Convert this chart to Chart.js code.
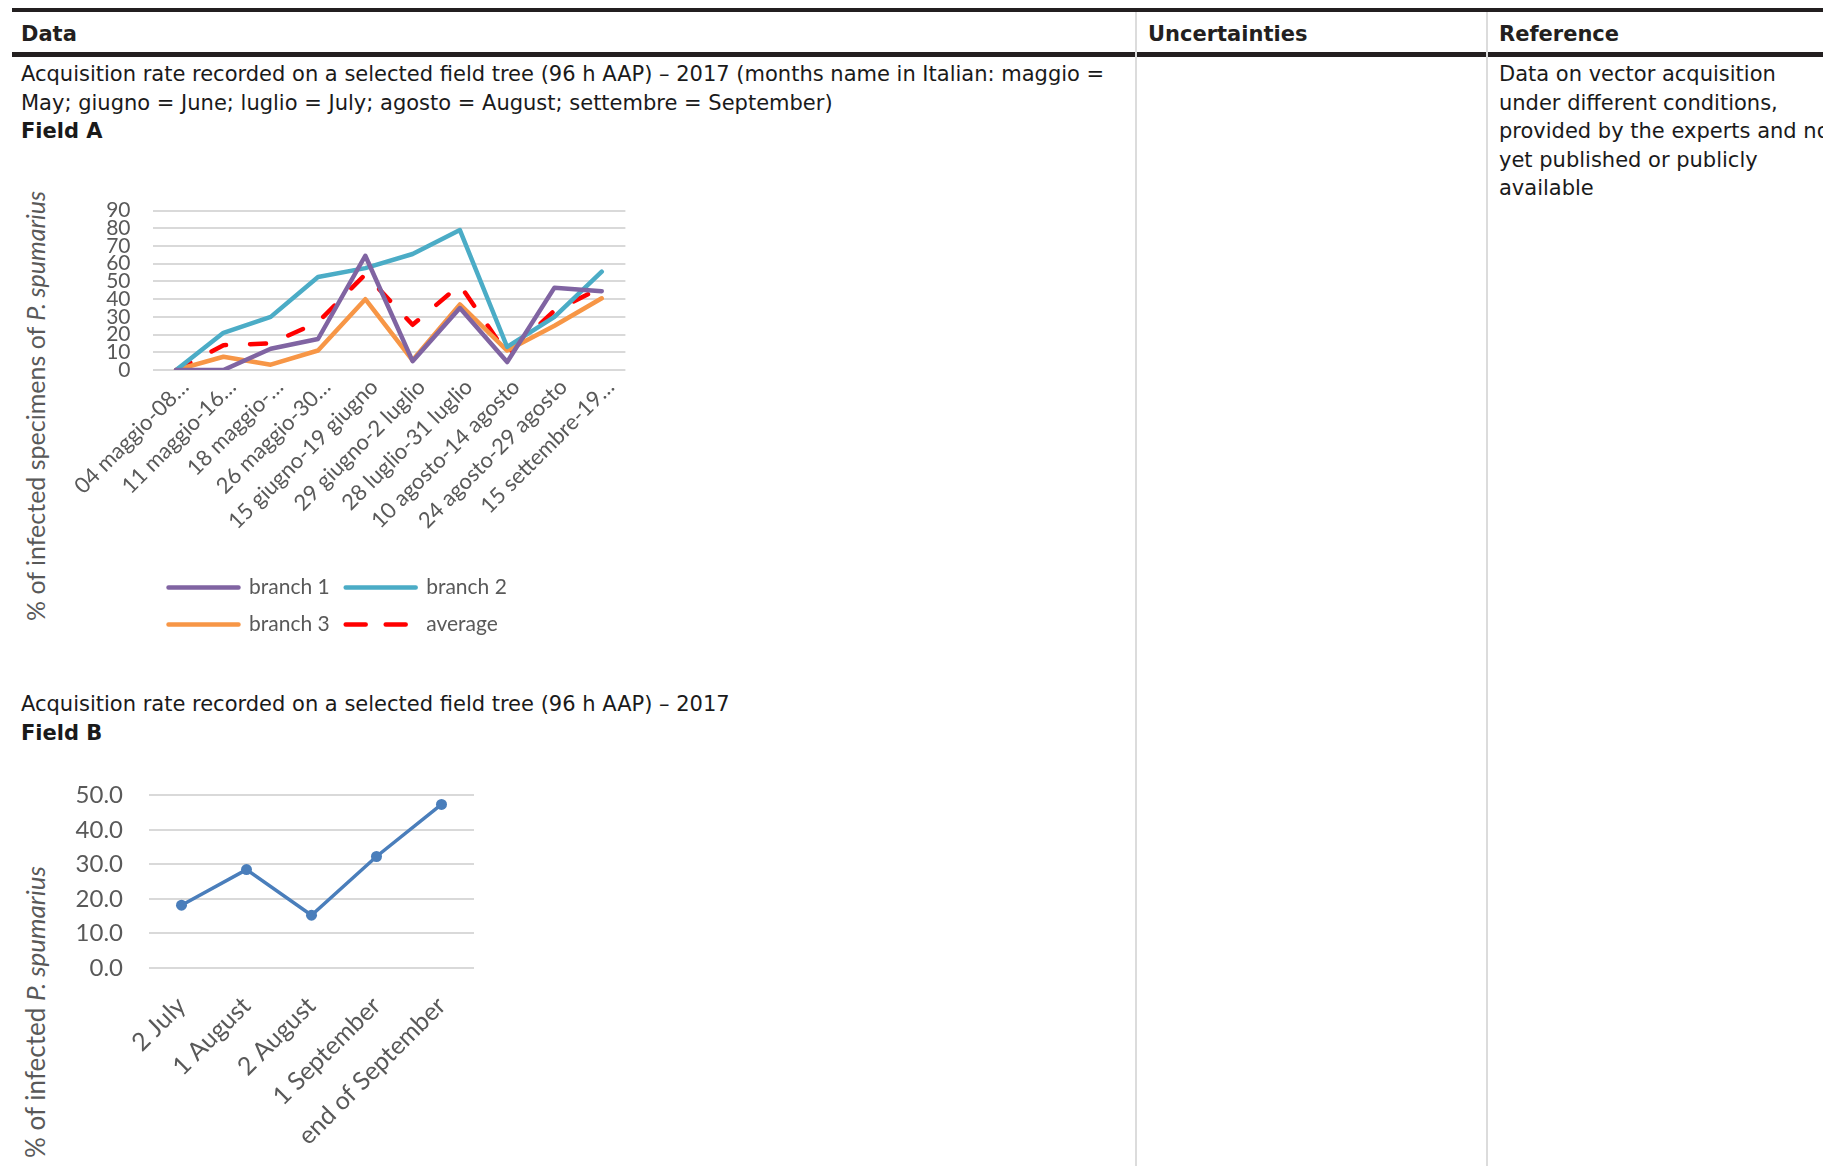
<!DOCTYPE html>
<html>
<head>
<meta charset="utf-8">
<script src="https://cdn.jsdelivr.net/npm/chart.js@4.4.1/dist/chart.umd.min.js"></script>
<style>
  html, body { margin: 0; padding: 0; background: #fff; }
  body { width: 1823px; height: 1166px; position: relative; overflow: hidden;
         font-family: "DejaVu Sans", Verdana, sans-serif; color: #1a1a1a; }
  .rule { position: absolute; left: 12px; right: 0; background: #231f20; }
  .vline { position: absolute; width: 2px; top: 12px; bottom: 0; background: #dcdcdc; }
  .txt { position: absolute; font-size: 21px; line-height: 28.5px; white-space: nowrap; }
  .hdr { font-weight: bold; color: #231f20; }
  .ytitle { position: absolute; font-family: Lato, sans-serif; color: #595959;
            white-space: nowrap; transform: translate(-50%, -50%) rotate(-90deg); }
  canvas { position: absolute; }
</style>
</head>
<body>
  <div class="rule" style="top:8px;height:4px"></div>
  <div class="rule" style="top:52px;height:5px"></div>
  <div class="vline" style="left:1135px"></div>
  <div class="vline" style="left:1486px"></div>

  <div class="txt hdr" style="left:21px;top:20px">Data</div>
  <div class="txt hdr" style="left:1148px;top:20px">Uncertainties</div>
  <div class="txt hdr" style="left:1499px;top:20px">Reference</div>

  <div class="txt" style="left:21px;top:60px">Acquisition rate recorded on a selected field tree (96 h AAP) – 2017 (months name in Italian: maggio =<br>May; giugno = June; luglio = July; agosto = August; settembre = September)<br><b>Field A</b></div>
  <div class="txt" style="left:1499px;top:60px">Data on vector acquisition<br>under different conditions,<br>provided by the experts and not<br>yet published or publicly<br>available</div>
  <div class="txt" style="left:21px;top:690px">Acquisition rate recorded on a selected field tree (96 h AAP) – 2017<br><b>Field B</b></div>

  <div class="ytitle" style="left:35px;top:406px;font-size:25px">% of infected specimens of <i>P. spumarius</i></div>
  <div class="ytitle" style="left:35px;top:1012px;font-size:26px">% of infected <i>P. spumarius</i></div>

  <canvas id="chartA" width="600" height="469" style="left:50px;top:176px"></canvas>
  <canvas id="chartB" width="450" height="388" style="left:50px;top:755px"></canvas>

<script>
// Field A: sampling periods (labels as they appear, truncated by Excel)
const periodsA = ['04 maggio-08…', '11 maggio-16…', '18 maggio-…', '26 maggio-30…',
  '15 giugno-19 giugno', '29 giugno-2 luglio', '28 luglio-31 luglio',
  '10 agosto-14 agosto', '24 agosto-29 agosto', '15 settembre-19…'];
const branch1 = [0, 0, 12, 17.5, 64.5, 5, 35, 4.5, 46.5, 44.5];
const branch2 = [0, 21, 30, 52.5, 57.5, 65.5, 79, 13, 30, 55.5];
const branch3 = [0, 7.5, 3, 11, 40, 5.5, 37, 11, 25, 40.5];
const average = [0, 14, 15, 27, 54, 25.5, 48, 9, 33.5, 46.5];

// Field B
const datesB = ['2 July', '1 August', '2 August', '1 September', 'end of September'];
const infectedB = [18.2, 28.5, 15.3, 32.3, 47.4];

const gray = '#595959';
const gridColor = '#d9d9d9';

const lineSet = (label, data, color, dash) => ({
    label: label,
    data: data,
    borderColor: color,
    backgroundColor: 'rgba(0,0,0,0)',
    borderWidth: 4.5,
    borderDash: dash || [],
    borderCapStyle: 'round',
    borderJoinStyle: 'round',
    pointRadius: 0,
    tension: 0
});

// Chart A
new Chart(document.getElementById('chartA'), {
    type: 'line',
    data: {
        labels: periodsA,
        datasets: [
            lineSet('branch 1', branch1, '#8064A2'),
            lineSet('branch 2', branch2, '#4BACC6'),
            lineSet('branch 3', branch3, '#F79646'),
            lineSet('average', average, '#FF0000', [16, 24])
        ]
    },
    options: {
        responsive: false,
        animation: false,
        layout: { padding: { top: 5.5, right: 24.6, left: 0, bottom: 0 } },
        plugins: {
            tooltip: { enabled: false },
            legend: {
                position: 'bottom',
                align: 'start',
                fullSize: false,
                labels: {
                    // flat box = line sample, keeps the dash pattern
                    boxWidth: 70,
                    boxHeight: 0,
                    padding: 16,
                    color: gray,
                    font: { family: 'Lato', size: 21 }
                }
            }
        },
        scales: {
            x: {
                offset: true,
                grid: { display: false },
                border: { display: false },
                ticks: {
                    autoSkip: false, minRotation: 45, maxRotation: 45, padding: -4, labelOffset: 9,
                    color: gray, font: { family: 'Lato', size: 22 }
                },
                afterFit: (s) => { s.height = 191; }
            },
            y: {
                min: 0, max: 90,
                grid: { color: gridColor, lineWidth: 2, drawTicks: false },
                border: { display: false },
                ticks: { autoSkip: false, stepSize: 10, padding: 22, color: gray, font: { family: 'Lato', size: 21 } },
                afterFit: (s) => { s.width = 102.5; }
            }
        }
    }
});

// Chart B
new Chart(document.getElementById('chartB'), {
    type: 'line',
    data: {
        labels: datesB,
        datasets: [{
            label: '% infected',
            data: infectedB,
            borderColor: '#4A7EBB',
            backgroundColor: '#4A7EBB',
            borderWidth: 3.5,
            pointRadius: 5.5,
            pointBorderWidth: 0,
            tension: 0
        }]
    },
    options: {
        responsive: false,
        animation: false,
        layout: { padding: { top: 8.7, right: 26, left: 0, bottom: 0 } },
        plugins: { legend: { display: false }, tooltip: { enabled: false } },
        scales: {
            x: {
                offset: true,
                grid: { display: false },
                border: { display: false },
                ticks: {
                    autoSkip: false, minRotation: 45, maxRotation: 45, padding: 15,
                    color: gray, font: { family: 'Lato', size: 25 }
                },
                afterFit: (s) => { s.height = 175; }
            },
            y: {
                min: 0, max: 50,
                grid: { color: gridColor, lineWidth: 2, drawTicks: false },
                border: { display: false },
                ticks: {
                    autoSkip: false, stepSize: 10, padding: 26, color: gray, font: { family: 'Lato', size: 24 },
                    callback: (v) => v.toFixed(1)
                },
                afterFit: (s) => { s.width = 99; }
            }
        }
    }
});
</script>
</body>
</html>
